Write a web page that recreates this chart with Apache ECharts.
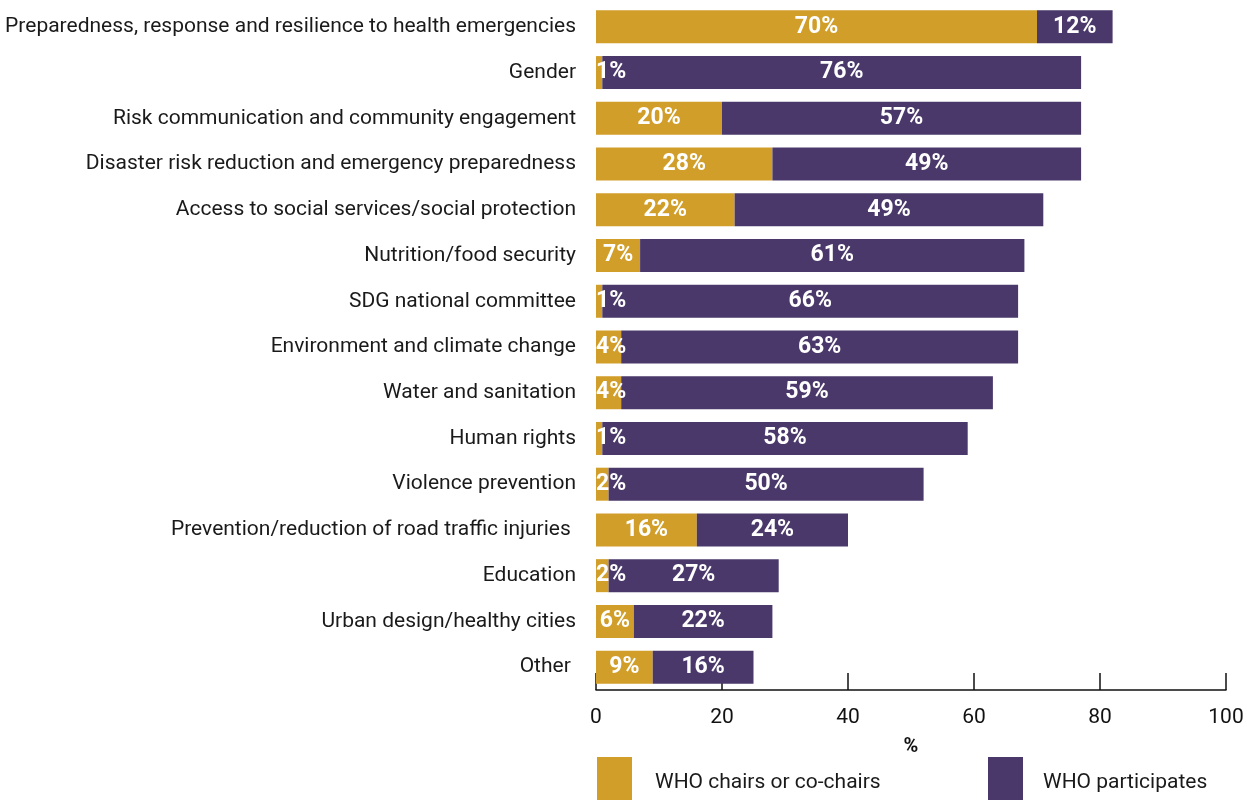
<!DOCTYPE html>
<html>
<head>
<meta charset="utf-8">
<style>
  html, body { margin: 0; padding: 0; background: #fff; }
  #chart { width: 1247px; height: 800px; }
</style>
<script src="https://cdn.jsdelivr.net/npm/echarts@6/dist/echarts.min.js"></script>
</head>
<body>
<div id="chart"></div>
<script>
// Areas of work, top to bottom
const categories = [
  'Preparedness, response and resilience to health emergencies',
  'Gender',
  'Risk communication and community engagement',
  'Disaster risk reduction and emergency preparedness',
  'Access to social services/social protection',
  'Nutrition/food security',
  'SDG national committee',
  'Environment and climate change',
  'Water and sanitation',
  'Human rights',
  'Violence prevention',
  'Prevention/reduction of road traffic injuries ',
  'Education',
  'Urban design/healthy cities',
  'Other '
];

// Share of mechanisms (%)
const chairs =       [70, 1, 20, 28, 22, 7, 1, 4, 4, 1, 2, 16, 2, 6, 9];
const participates = [12, 76, 57, 49, 49, 61, 66, 63, 59, 58, 50, 24, 27, 22, 16];

const xTicks = [0, 20, 40, 60, 80, 100];

const YELLOW = '#D19E2A';
const PURPLE = '#4A386A';
const FONT = 'Roboto';

// Narrow segments keep their label starting at the bar's left edge
function chairItems(vals) {
  return vals.map(v => v < 6
    ? { value: v, label: { position: 'insideLeft', distance: 0 } }
    : { value: v });
}

const valueLabel = {
  show: true,
  position: 'inside',
  formatter: '{c}%',
  color: '#fff',
  fontFamily: FONT,
  fontWeight: 'bold',
  fontSize: 23
};

// Legend text sits a little below the swatch centre
const legendText = (padLeft) => ({
  fontFamily: FONT, fontSize: 21, color: '#1a1a1a',
  rich: { t: { fontFamily: FONT, fontSize: 21, color: '#1a1a1a', padding: [9, 0, 0, padLeft] } }
});

const chart = echarts.init(document.getElementById('chart'));
chart.setOption({
  animation: false,
  grid: { left: 596, right: 21, top: 4, bottom: 110, containLabel: false },
  xAxis: {
    type: 'value',
    min: xTicks[0],
    max: xTicks[xTicks.length - 1],
    interval: 20,
    name: '%',
    nameLocation: 'middle',
    nameGap: 47,
    nameTextStyle: { fontFamily: FONT, fontWeight: 'bold', fontSize: 20, color: '#111' },
    axisLine: { show: true, lineStyle: { color: '#111', width: 1.5 } },
    axisTick: { show: true, inside: true, length: 17, lineStyle: { color: '#111', width: 1.5 } },
    axisLabel: { margin: 17, fontFamily: FONT, fontSize: 21, color: '#111' },
    splitLine: { show: false }
  },
  yAxis: {
    type: 'category',
    inverse: true,
    data: categories,
    axisLine: { show: false },
    axisTick: { show: false },
    axisLabel: { margin: 20, fontFamily: FONT, fontSize: 21, color: '#1a1a1a' }
  },
  legend: [
    {
      left: 592, top: 752,
      data: ['WHO chairs or co-chairs'],
      icon: 'rect', itemWidth: 35, itemHeight: 43,
      formatter: '{t|{name}}',
      textStyle: legendText(18)
    },
    {
      left: 983, top: 752,
      data: ['WHO participates'],
      icon: 'rect', itemWidth: 35, itemHeight: 43,
      formatter: '{t|{name}}',
      textStyle: legendText(15)
    }
  ],
  series: [
    {
      name: 'WHO chairs or co-chairs',
      type: 'bar',
      stack: 'total',
      barWidth: 33,
      itemStyle: { color: YELLOW },
      label: valueLabel,
      data: chairItems(chairs)
    },
    {
      name: 'WHO participates',
      type: 'bar',
      stack: 'total',
      barWidth: 33,
      itemStyle: { color: PURPLE },
      label: valueLabel,
      data: participates
    }
  ]
});
</script>
</body>
</html>
